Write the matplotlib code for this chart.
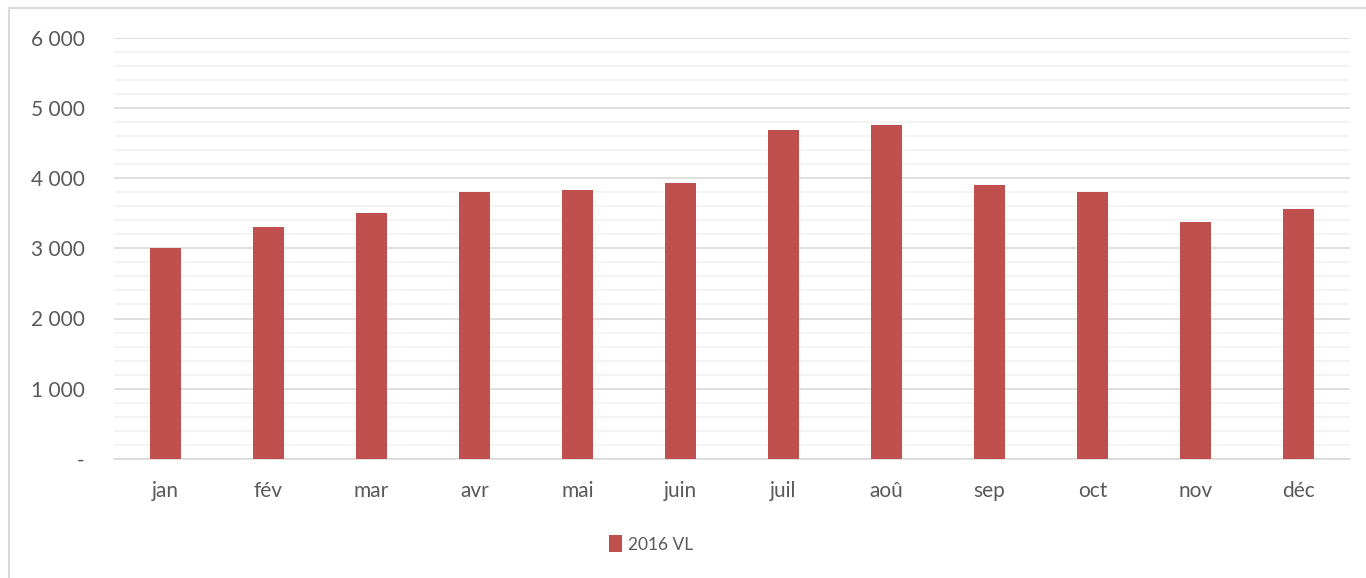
import matplotlib
matplotlib.use("Agg")
import matplotlib.pyplot as plt
from matplotlib.ticker import MultipleLocator, FuncFormatter
from matplotlib.patches import Rectangle

months = ["jan", "fév", "mar", "avr", "mai", "juin", "juil", "aoû", "sep", "oct", "nov", "déc"]
values_2016_vl = [3010, 3300, 3495, 3800, 3830, 3930, 4690, 4760, 3900, 3800, 3370, 3555]
series_label = "2016 VL"

plt.rcParams['font.family'] = ['Lato', 'DejaVu Sans']
text_color = "#595959"
bar_color = "#C0504D"

fig = plt.figure(figsize=(13.66, 5.78), dpi=100)
ax = fig.add_axes([114/1366, 1-459/578, (1350-114)/1366, (459-37.5)/578])

x = list(range(len(months)))
ax.bar(x, values_2016_vl, width=0.31, color=bar_color, label=series_label, zorder=3)

ax.set_xlim(-0.5, len(months)-0.5)
ax.set_ylim(0, 6000)
ax.yaxis.set_major_locator(MultipleLocator(1000))
ax.yaxis.set_minor_locator(MultipleLocator(200))

def fmt(v, pos):
    if v == 0:
        return "-"
    return f"{int(v):,}".replace(",", " ")
ax.yaxis.set_major_formatter(FuncFormatter(fmt))

ax.grid(which="minor", axis="y", color="#F2F2F2", linewidth=1.2, zorder=0)
ax.grid(which="major", axis="y", color="#D9D9D9", linewidth=1.2, zorder=1)

ax.set_xticks(x)
ax.set_xticklabels(months)
for s in ["top", "right", "left"]:
    ax.spines[s].set_visible(False)
ax.spines["bottom"].set_color("#D9D9D9")
ax.spines["bottom"].set_linewidth(1.2)

ax.tick_params(axis="both", which="both", length=0, colors=text_color, labelsize=15)
ax.tick_params(axis="y", pad=21)
ax.tick_params(axis="x", pad=16)

leg = fig.legend(loc="center", bbox_to_anchor=(651/1366, 1-544/578), frameon=False,
                 fontsize=12.5, handlelength=0.75, handleheight=1.15, handletextpad=0.3,
                 labelcolor=text_color)

# outer chart frame
fig.patches.append(Rectangle((9/1366, -0.05), 1.1, 1-8.5/578+0.05, transform=fig.transFigure,
                             fill=False, edgecolor="#D9D9D9", linewidth=1.5))

fig.savefig("out.png", dpi=100, facecolor="white")
